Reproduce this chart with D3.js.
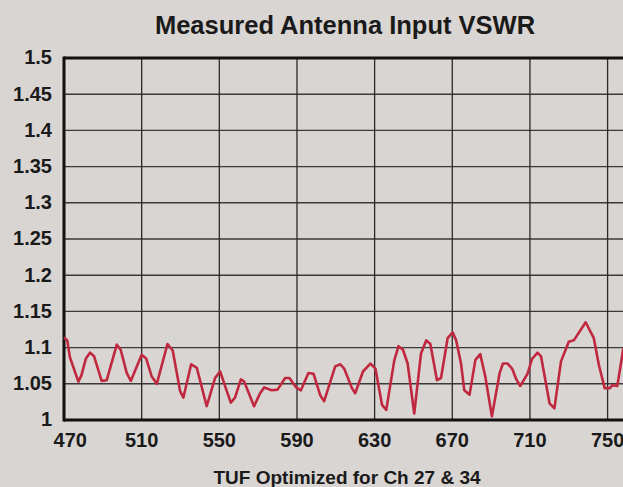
<!DOCTYPE html>
<html>
<head>
<meta charset="utf-8">
<script src="https://cdn.jsdelivr.net/npm/d3@7"></script>
<style>
  html, body { margin: 0; padding: 0; background: #d9d5d2; }
  svg { display: block; }
  text { font-family: "Liberation Sans", Arial, sans-serif; font-weight: bold; fill: #1a1a1a; }
</style>
</head>
<body>
<svg id="chart" width="623" height="487"></svg>
<script>
const title = "Measured Antenna Input VSWR";
const xTitle = "TUF Optimized for Ch 27 & 34";
const xTicks = [470, 510, 550, 590, 630, 670, 710, 750];
const yTicks = [1, 1.05, 1.1, 1.15, 1.2, 1.25, 1.3, 1.35, 1.4, 1.45, 1.5];
const yTickLabels = ["1", "1.05", "1.1", "1.15", "1.2", "1.25", "1.3", "1.35", "1.4", "1.45", "1.5"];

const freq = [470, 471.7, 473, 477.4, 479, 481.3, 483.4, 485.5, 489.4, 492, 497.2, 499.2, 502.3, 504.4,
  510, 512.3, 515.2, 517.8, 523.3, 526, 529.8, 531.5, 535.5, 538.4, 543.5, 547.8, 550.4, 555.9, 558.1,
  561.1, 562.8, 567.9, 571, 573.1, 577, 580, 583.9, 586.1, 589.6, 592, 595.9, 598.5, 602, 604,
  609.7, 612.3, 614.3, 618.3, 620, 624, 627.8, 630.4, 633.8, 636, 640.1, 642.3, 644.6, 647, 650.4,
  653.9, 656.6, 658.7, 662.1, 664.2, 667.6, 670.2, 672, 674.5, 676.2, 678.9, 681.9, 684.4, 687, 690.4,
  694.4, 696.1, 698.5, 700.8, 703, 705, 708.8, 711, 713.9, 715.7, 720.1, 722.6, 726, 730, 732.6,
  738.7, 742.9, 745.5, 748.5, 751.2, 752.4, 755, 758, 762];
const vswr = [1.114, 1.11, 1.087, 1.053, 1.062, 1.085, 1.093, 1.088, 1.054, 1.055, 1.104, 1.097, 1.065, 1.054,
  1.09, 1.085, 1.06, 1.05, 1.105, 1.096, 1.04, 1.031, 1.077, 1.072, 1.019, 1.058, 1.067, 1.024, 1.031,
  1.056, 1.053, 1.019, 1.037, 1.045, 1.041, 1.042, 1.058, 1.058, 1.045, 1.041, 1.065, 1.064, 1.034, 1.026,
  1.074, 1.077, 1.071, 1.044, 1.037, 1.067, 1.078, 1.071, 1.021, 1.014, 1.082, 1.102, 1.097, 1.078, 1.009,
  1.092, 1.11, 1.105, 1.055, 1.058, 1.113, 1.121, 1.11, 1.078, 1.041, 1.035, 1.083, 1.091, 1.06, 1.005,
  1.065, 1.078, 1.078, 1.071, 1.056, 1.047, 1.064, 1.084, 1.093, 1.088, 1.023, 1.016, 1.081, 1.108, 1.11,
  1.135, 1.113, 1.076, 1.044, 1.044, 1.048, 1.047, 1.097, 1.12];

const svg = d3.select("#chart");
const W = 623, H = 487;
const mLeft = 64, mTop = 58, mBottom = 420;

const x = d3.scaleLinear().domain([470, 750]).range([mLeft, 607.6]);
const y = d3.scaleLinear().domain([1, 1.5]).range([mBottom, mTop]);
const mRight = x(780);

svg.append("rect").attr("width", W).attr("height", H).attr("fill", "#d9d5d2");

// Title
svg.append("text").attr("x", 345).attr("y", 34.3).attr("text-anchor", "middle")
  .style("font-size", "25.5px").text(title);

// Gridlines
const g = svg.append("g");
g.selectAll("line.h").data(yTicks.slice(1, -1)).join("line")
  .attr("x1", mLeft).attr("x2", mRight)
  .attr("y1", d => y(d)).attr("y2", d => y(d))
  .attr("stroke", "#3a3a3a").attr("stroke-width", 1.4);
g.selectAll("line.v").data(xTicks.slice(1)).join("line")
  .attr("x1", d => x(d)).attr("x2", d => x(d))
  .attr("y1", mTop).attr("y2", mBottom)
  .attr("stroke", "#2a2a2a").attr("stroke-width", 1.3);

// Frame
svg.append("line").attr("x1", mLeft).attr("x2", mRight).attr("y1", y(1.5)).attr("y2", y(1.5))
  .attr("stroke", "#111").attr("stroke-width", 3);
svg.append("line").attr("x1", mLeft).attr("x2", mRight).attr("y1", y(1)).attr("y2", y(1))
  .attr("stroke", "#111").attr("stroke-width", 3);
svg.append("line").attr("x1", mLeft).attr("x2", mLeft).attr("y1", mTop - 1.5).attr("y2", mBottom + 1.5)
  .attr("stroke", "#111").attr("stroke-width", 3);

// Y tick labels
svg.selectAll("text.yl").data(yTicks).join("text")
  .attr("x", 52).attr("y", d => y(d) - 0.8).attr("dy", "0.36em")
  .attr("text-anchor", "end").style("font-size", "20px")
  .text((d, i) => yTickLabels[i]);

// X tick labels
svg.selectAll("text.xl").data(xTicks).join("text")
  .attr("x", (d, i) => x(d) + (i === 0 ? 6.3 : 0)).attr("y", 446.5)
  .attr("text-anchor", "middle").style("font-size", "20px")
  .text(d => d);

// X title
svg.append("text").attr("x", 347).attr("y", 484).attr("text-anchor", "middle")
  .style("font-size", "19px").text(xTitle);

// Data line
const line = d3.line().x((d, i) => x(freq[i])).y(d => y(d));
svg.append("path").datum(vswr).attr("d", line)
  .attr("fill", "none").attr("stroke", "#c0283f").attr("stroke-width", 2.6)
  .attr("stroke-linejoin", "round");
</script>
</body>
</html>
